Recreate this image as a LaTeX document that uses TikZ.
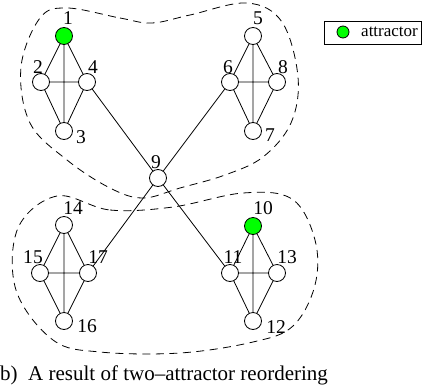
\documentclass[tikz,border=0pt]{standalone}
\usepackage{fontspec}
\setmainfont{Liberation Serif}
\begin{document}
\begin{tikzpicture}[x=1pt,y=-1pt,
  vtx/.style={circle,draw,fill=white,minimum size=17pt,inner sep=0pt,line width=0.8pt},
  attr/.style={vtx,fill=green},
  lbl/.style={inner sep=0pt,font=\fontsize{19.5}{19.5}\selectfont},
  edge/.style={line width=0.8pt},
  blob/.style={dash pattern=on 8pt off 5.5pt,line width=0.8pt}]
\useasboundingbox (0,0) rectangle (425,391);
% dashed regions
\draw[blob] plot[smooth cycle,tension=0.6] coordinates {(67,8) (120,18) (152,23) (190,15) (247,3) (282,22) (298,77) (291,123) (263,157) (225,175) (180,188) (143,198) (110,188) (67,160) (30,123) (21,67) (40,18)};
\draw[blob] plot[smooth cycle,tension=0.6] coordinates {(57,196) (110,210) (173,207) (243,193) (292,199) (315,240) (315,285) (293,326) (253,342) (180,353) (100,352) (53,340) (16,290) (18,228)};
% vertices
\node[attr] (n1) at (64,36) {};
\node[vtx] (n2) at (41,82) {};
\node[vtx] (n4) at (87,82) {};
\node[vtx] (n3) at (64,131) {};
\node[vtx] (n5) at (253,36) {};
\node[vtx] (n6) at (230,82) {};
\node[vtx] (n8) at (277,82) {};
\node[vtx] (n7) at (253,131) {};
\node[vtx] (n9) at (158,178) {};
\node[vtx] (n14) at (64,225) {};
\node[vtx] (n15) at (40,273) {};
\node[vtx] (n17) at (88,273) {};
\node[vtx] (n16) at (64,321) {};
\node[attr] (n10) at (253,226) {};
\node[vtx] (n11) at (230,273) {};
\node[vtx] (n13) at (277,273) {};
\node[vtx] (n12) at (253,321) {};
% edges
\foreach \a/\b/\c/\d in {1/2/3/4,5/6/7/8,14/15/16/17,10/11/12/13}{
  \draw[edge] (n\a)--(n\b) (n\a)--(n\c) (n\a)--(n\d) (n\b)--(n\d) (n\b)--(n\c) (n\c)--(n\d);
}
\draw[edge] (n4)--(n9) (n6)--(n9) (n9)--(n17) (n9)--(n11);
% labels
\node[lbl] (l1) at (68,18) {1};
\node[lbl] (l2) at (38,67) {2};
\node[lbl] (l4) at (93,67) {4};
\node[lbl] (l3) at (81,137) {3};
\node[lbl] (l5) at (258,18) {5};
\node[lbl] (l6) at (228,67) {6};
\node[lbl] (l8) at (283,67) {8};
\node[lbl] (l7) at (270,135) {7};
\node[lbl] (l9) at (156,162) {9};
\node[lbl] (l14) at (73,208) {14};
\node[lbl] (l15) at (33,257) {15};
\node[lbl] (l17) at (98,257) {17};
\node[lbl] (l16) at (87,326) {16};
\node[lbl] (l10) at (263,208) {10};
\node[lbl] (l11) at (233,257) {11};
\node[lbl] (l13) at (287,257) {13};
\node[lbl] (l12) at (276,327) {12};
% legend
\draw[line width=0.8pt] (324,21) rectangle (421,44);
\node[circle,draw,fill=green,minimum size=12pt,inner sep=0pt,line width=0.8pt] (lg) at (343,32) {};
\node[inner sep=0pt,anchor=west,font=\fontsize{17}{17}\selectfont] (lgt) at (361,32) {attractor};
% caption
\node[inner sep=0pt,anchor=base west,font=\fontsize{21}{21}\selectfont] (cap) at (0,380) {b)\ \ A result of two--attractor reordering};
\end{tikzpicture}
\end{document}
